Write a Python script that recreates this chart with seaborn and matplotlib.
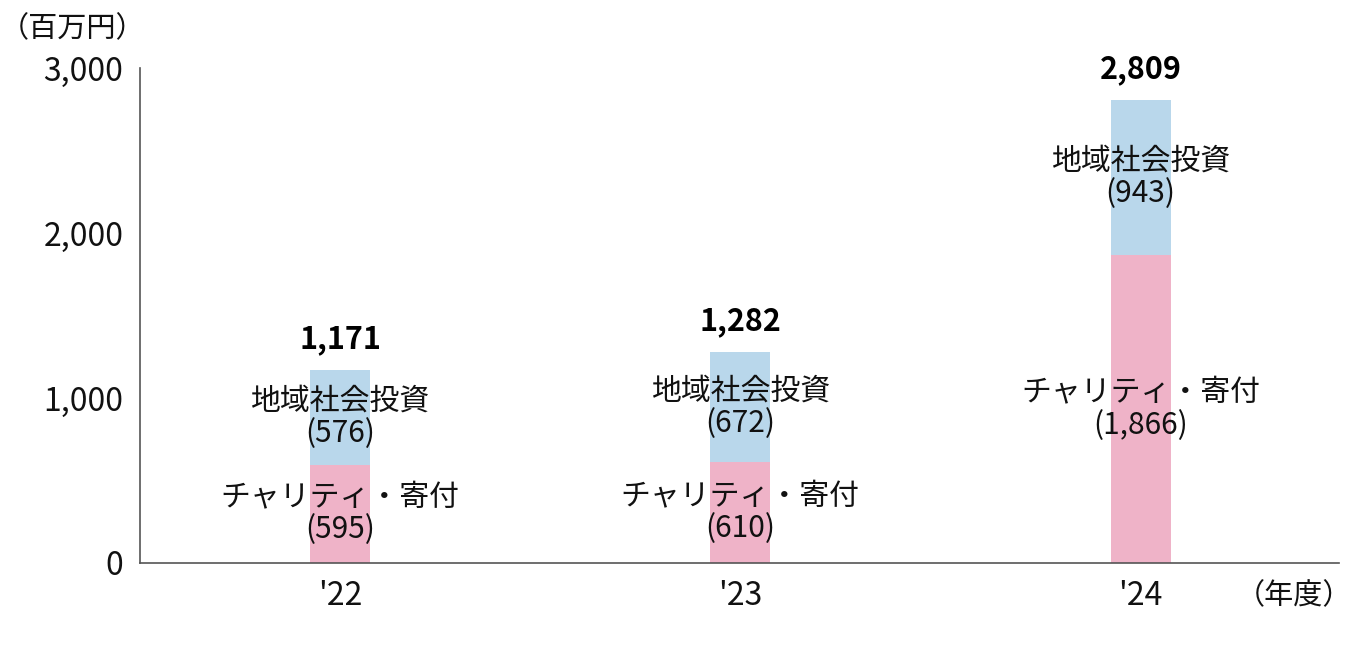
import seaborn as sns
import matplotlib.pyplot as plt
import pandas as pd

# values in million yen
years = ["'22", "'23", "'24"]
charity = [595, 610, 1866]      # チャリティ・寄付
community = [576, 672, 943]     # 地域社会投資
totals = [1171, 1282, 2809]

df = pd.DataFrame({"year": years, "charity": charity,
                   "community": community, "total": totals})

sns.set_theme(style="white")
plt.rcParams['font.family'] = ['Noto Sans CJK JP', 'DejaVu Sans']

fig, ax = plt.subplots(figsize=(13.66, 6.5), dpi=100)
fig.subplots_adjust(left=0.1025, right=0.98, top=0.895, bottom=0.134)

blue = "#b9d7eb"
pink = "#efb3c8"

# stacked: full total in blue, charity part in pink on top of it
sns.barplot(data=df, x="year", y="total", color=blue, width=0.15,
            saturation=1, linewidth=0, ax=ax)
sns.barplot(data=df, x="year", y="charity", color=pink, width=0.15,
            saturation=1, linewidth=0, ax=ax)

for i, row in df.iterrows():
    ax.text(i, row.total + 90, f"{row.total:,}", ha="center", va="bottom",
            fontsize=22, fontweight="bold", color="black")
    ax.text(i, row.charity + row.community / 2, f"地域社会投資\n({row.community:,})",
            ha="center", va="center", fontsize=21.5, linespacing=1.05, color="#111111")
    ax.text(i, row.charity / 2, f"チャリティ・寄付\n({row.charity:,})",
            ha="center", va="center", fontsize=21.5, linespacing=1.05, color="#111111")

ax.set_xlim(-0.5, 2.495)
ax.set_ylim(0, 2970)
ax.set_yticks([0, 1000, 2000, 3000])
ax.set_yticklabels([f"{v:,}" for v in [0, 1000, 2000, 3000]], fontsize=23)
ax.tick_params(axis="x", labelsize=23, pad=12, length=0, labelcolor="#111111")
ax.tick_params(axis="y", pad=12, length=0, labelcolor="#111111")
ax.set_xlabel("")
ax.set_ylabel("")

sns.despine(ax=ax, top=True, right=True)
for s in ["left", "bottom"]:
    ax.spines[s].set_color("#555555")
    ax.spines[s].set_linewidth(1.2)

fig.text(0.0, 0.955, "（百万円）", fontsize=21, ha="left", va="center", color="#111111")
fig.text(0.905, 0.083, "（年度）", fontsize=21, ha="left", va="center", color="#111111")

fig.savefig("out.png", dpi=100)
